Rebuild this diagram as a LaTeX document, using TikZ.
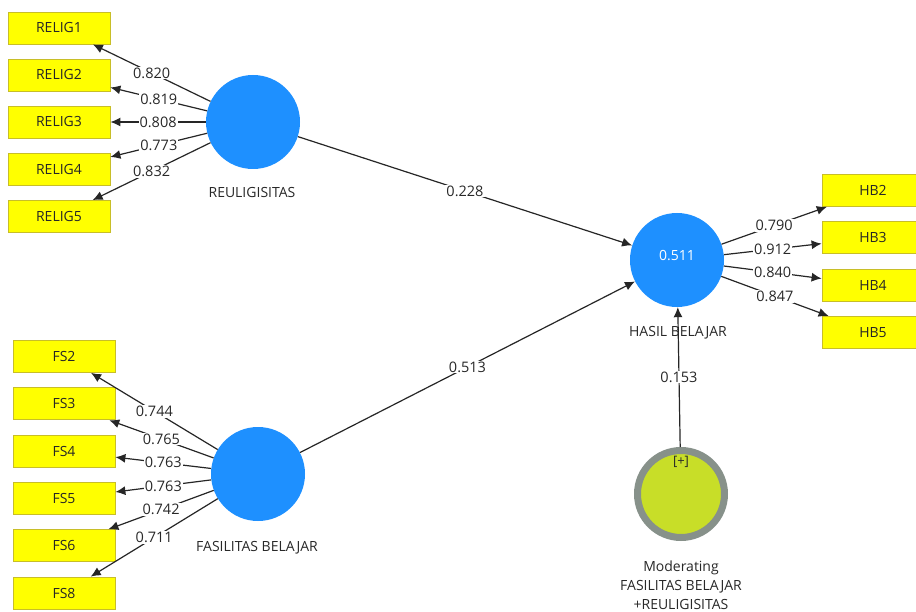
\documentclass[tikz,border=0pt]{standalone}
\usepackage{fontspec}
\setmainfont{Open Sans}
\usetikzlibrary{arrows.meta}
\definecolor{lvblue}{RGB}{30,144,255}
\definecolor{indyel}{RGB}{255,255,0}
\definecolor{indbord}{RGB}{200,190,40}
\definecolor{modfill}{RGB}{200,222,40}
\definecolor{modring}{RGB}{135,145,138}
\definecolor{txtgray}{RGB}{40,40,40}
\begin{document}
\begin{tikzpicture}[x=1pt,y=-1pt,
  ind/.style={rectangle,draw=indbord,fill=indyel,minimum width=102pt,minimum height=32pt,inner sep=0pt,font=\fontsize{14}{16}\selectfont,text=black!85,line width=0.8pt},
  lv/.style={circle,fill=lvblue,minimum size=94pt,inner sep=0pt},
  arr/.style={-{Latex[length=10pt,width=9pt]},line width=1.2pt,draw=black!85},
  lbl/.style={fill=white,inner sep=1pt,font=\fontsize{14.5}{16}\selectfont,text=txtgray},
  captxt/.style={font=\fontsize{14}{16}\selectfont,text=txtgray}]
\useasboundingbox (0,0) rectangle (916,612);
\fill[white] (0,0) rectangle (916,612);
% latent variables
\node[lv] (rel) at (253,122) {};
\node[lv] (fas) at (258,474) {};
\node[lv] (has) at (677,260) {};
\node[text=white,font=\fontsize{14}{16}\selectfont] (hasval) at (677,256) {0.511};
\node[circle,draw=modring,fill=modfill,line width=7pt,minimum size=87pt,inner sep=0pt] (mod) at (681,494) {};
\node[font=\fontsize{13}{15}\selectfont,text=txtgray] (plus) at (681,462) {[+]};
% captions
\node[captxt] (relcap) at (252,193) {REULIGISITAS};
\node[captxt] (fascap) at (257,548) {FASILITAS BELAJAR};
\node[captxt] (hascap) at (678,333) {HASIL BELAJAR};
\node[captxt,align=center,font=\fontsize{14}{19}\selectfont] (modcap) at (681,585.5) {Moderating\\FASILITAS BELAJAR\\+REULIGISITAS};
% indicators
\node[ind] (r1) at (59,28) {RELIG1};
\node[ind] (r2) at (59,75) {RELIG2};
\node[ind] (r3) at (59,122) {RELIG3};
\node[ind] (r4) at (59,169.5) {RELIG4};
\node[ind] (r5) at (59,216.5) {RELIG5};
\node[ind] (f2) at (64,356.5) {FS2};
\node[ind] (f3) at (64,403.8) {FS3};
\node[ind] (f4) at (64,451.1) {FS4};
\node[ind] (f5) at (64,498.4) {FS5};
\node[ind] (f6) at (64,545.7) {FS6};
\node[ind] (f8) at (64,593) {FS8};
\node[ind] (h2) at (873,190.5) {HB2};
\node[ind] (h3) at (873,237.8) {HB3};
\node[ind] (h4) at (873,285.1) {HB4};
\node[ind] (h5) at (873,332.4) {HB5};
% outer loadings
\draw[arr] (rel) -- node[lbl] {0.820} (r1);
\draw[arr] (rel) -- node[lbl] {0.819} (r2);
\draw[arr] (rel) -- node[lbl] {0.808} (r3);
\draw[arr] (rel) -- node[lbl] {0.773} (r4);
\draw[arr] (rel) -- node[lbl] {0.832} (r5);
\draw[arr] (fas) -- node[lbl] {0.744} (f2);
\draw[arr] (fas) -- node[lbl] {0.765} (f3);
\draw[arr] (fas) -- node[lbl] {0.763} (f4);
\draw[arr] (fas) -- node[lbl] {0.763} (f5);
\draw[arr] (fas) -- node[lbl] {0.742} (f6);
\draw[arr] (fas) -- node[lbl] {0.711} (f8);
\draw[arr] (has) -- node[lbl] {0.790} (h2);
\draw[arr] (has) -- node[lbl] {0.912} (h3);
\draw[arr] (has) -- node[lbl] {0.840} (h4);
\draw[arr] (has) -- node[lbl] {0.847} (h5);
% structural paths
\draw[arr] (rel) -- node[lbl] {0.228} (has);
\draw[arr] (fas) -- node[lbl] {0.513} (has);
\draw[arr] (mod) -- node[lbl] {0.153} (has);
\end{tikzpicture}
\end{document}
